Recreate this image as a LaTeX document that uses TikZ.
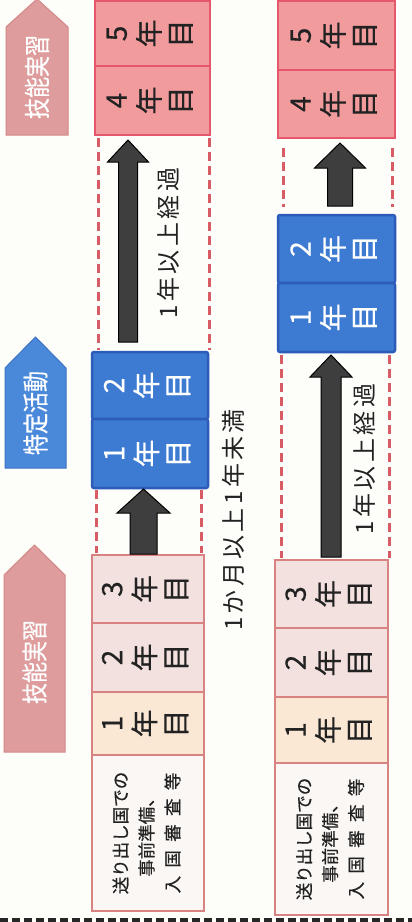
\documentclass[tikz,border=0pt]{standalone}
\usepackage{fontspec}
\usepackage{graphicx}
\newfontfamily\jp{Noto Sans CJK JP}
\newfontfamily\jpb[FakeBold=0.5]{Noto Sans CJK JP}
\newfontfamily\jpls[LetterSpace=14]{Noto Sans CJK JP}
\usetikzlibrary{calc}

\definecolor{bgc}{HTML}{FDFDFA}
\definecolor{salmon}{HTML}{F29B9D}
\definecolor{salmonline}{HTML}{E5576A}
\definecolor{lpink}{HTML}{F3E1DF}
\definecolor{lpinkline}{HTML}{D98282}
\definecolor{peach}{HTML}{FAE8D5}
\definecolor{offw}{HTML}{FBF7F5}
\definecolor{bluebox}{HTML}{3D7BD2}
\definecolor{blueline}{HTML}{2D5BBA}
\definecolor{tagpink}{HTML}{DE9C9C}
\definecolor{tagpinkline}{HTML}{D38888}
\definecolor{tagblue}{HTML}{4A88DA}
\definecolor{tagblueline}{HTML}{3D74C4}
\definecolor{arrowfill}{HTML}{3E3E3E}
\definecolor{dashred}{HTML}{D75C66}
\definecolor{txtdark}{HTML}{222222}

\newcommand{\yrtxt}[1]{\rotatebox{90}{\jpb\fontsize{28}{31}\selectfont\begin{tabular}{@{}c@{}}#1\end{tabular}}}
\newcommand{\pretxt}{\rotatebox{90}{\jpb\fontsize{17.5}{26}\selectfont\begin{tabular}{@{}c@{}}送り出し国での\\事前準備、\\\makebox[6.9em][s]{入\hfill 国\hfill 審\hfill 査\hfill 等}\end{tabular}}}
\newcommand{\tagtxt}[1]{\rotatebox{90}{\scalebox{1}[1.25]{#1}}}

% block arrow: #1 lower node, #2 upper node, #3 centre x, #4 shaft half, #5 head half, #6 head length, #7 bottom gap, #8 top gap
\newcommand{\barrow}[8]{%
  \draw[blockarr] let \p1=(#1.north), \p2=(#2.south) in
    (#3pt-#4pt,\y1+#7pt) -- (#3pt-#4pt,\y2-#8pt-#6pt) -- (#3pt-#5pt,\y2-#8pt-#6pt)
    -- (#3pt,\y2-#8pt) -- (#3pt+#5pt,\y2-#8pt-#6pt) -- (#3pt+#4pt,\y2-#8pt-#6pt)
    -- (#3pt+#4pt,\y1+#7pt) -- cycle;}
% dashed guide: #1 upper node, #2 lower node, #3 x, #4 top gap, #5 bottom gap
\newcommand{\dline}[5]{%
  \draw[dashline] let \p1=(#1.south), \p2=(#2.north) in (#3pt,\y1-#4pt) -- (#3pt,\y2+#5pt);}

\begin{document}
\begin{tikzpicture}[x=1pt,y=-1pt,
  ybox/.style={draw, line width=2.5pt, inner sep=0pt, outer sep=0pt, font=\jp, text=txtdark},
  redbox/.style={ybox, draw=salmonline, fill=salmon},
  pinkbox/.style={ybox, draw=lpinkline, fill=lpink},
  peachbox/.style={ybox, draw=lpinkline, fill=peach},
  prebox/.style={ybox, draw=lpinkline, fill=offw},
  bluebx/.style={ybox, draw=blueline, fill=bluebox, text=white, rounded corners=2pt},
  blockarr/.style={draw=black, line width=1pt, fill=arrowfill, line join=miter},
  dashline/.style={draw=dashred, line width=3pt, dash pattern=on 9pt off 5pt},
  lab/.style={rotate=90, inner sep=0pt, font=\jpls\fontsize{24}{24}\selectfont, text=txtdark},
  tagt/.style={inner sep=0pt, text=white, font=\jpb\fontsize{21}{21}\selectfont},
  tagpk/.style={fill=tagpink, draw=tagpinkline, line width=1pt},
  tagbl/.style={fill=tagblue, draw=tagblueline, line width=1pt}
]
\useasboundingbox (0,0) rectangle (412,922);
\fill[bgc] (0,0) rectangle (412,922);

% tags
\path[tagpk] (6,135) -- (6,27) -- (37,-1) -- (68,27) -- (68,135) -- cycle;
\node[tagt] (tag1) at (37,77) {\tagtxt{技能実習}};
\path[tagbl] (5,468) -- (5,368) -- (35.5,337) -- (66,368) -- (66,468) -- cycle;
\node[tagt] (tag2) at (35.5,413) {\tagtxt{特定活動}};
\path[tagpk] (4,752) -- (4,575) -- (34.5,545) -- (65,575) -- (65,752) -- cycle;
\node[tagt] (tag3) at (34.5,662) {\tagtxt{技能実習}};

% column 1
\node[redbox, minimum width=115pt, minimum height=65pt] (c1y5) at (152.5,33.5) {\yrtxt{5\\年\\目}};
\node[redbox, minimum width=115pt, minimum height=69pt] (c1y4) at (152.5,100.5) {\yrtxt{4\\年\\目}};
\node[bluebx, minimum width=116pt, minimum height=67pt] (c1s2) at (150,385.5) {\yrtxt{2\\年\\目}};
\node[bluebx, minimum width=116pt, minimum height=69pt] (c1s1) at (150,453.5) {\yrtxt{1\\年\\目}};
\node[pinkbox, minimum width=112pt, minimum height=68pt] (c1y3) at (148,589) {\yrtxt{3\\年\\目}};
\node[pinkbox, minimum width=112pt, minimum height=69pt] (c1y2) at (148,657.5) {\yrtxt{2\\年\\目}};
\node[peachbox, minimum width=112pt, minimum height=63pt] (c1y1) at (148,723.5) {\yrtxt{1\\年\\目}};
\node[prebox, minimum width=112pt, minimum height=156pt] (c1pre) at (148,833) {\pretxt};

\dline{c1y4}{c1s2}{98}{3}{2}
\dline{c1y4}{c1s2}{209}{3}{2}
\dline{c1s1}{c1y3}{96}{2}{2}
\dline{c1s1}{c1y3}{201}{2}{2}
\barrow{c1s2}{c1y4}{128}{9.5}{20.5}{22}{10}{5}
\barrow{c1y3}{c1s1}{143.5}{13.5}{26.5}{24}{1}{1}
\node[lab] (l1) at (168,243) {1年以上経過};
\node[lab] (l2) at (233,520) {1か月以上1年未満};

% column 2
\node[redbox, minimum width=117pt, minimum height=69pt] (c2y5) at (336.5,35.5) {\yrtxt{5\\年\\目}};
\node[redbox, minimum width=117pt, minimum height=68pt] (c2y4) at (336.5,104) {\yrtxt{4\\年\\目}};
\node[bluebx, minimum width=117pt, minimum height=68pt] (c2s2) at (336.5,249) {\yrtxt{2\\年\\目}};
\node[bluebx, minimum width=117pt, minimum height=69pt] (c2s1) at (336.5,317.5) {\yrtxt{1\\年\\目}};
\node[pinkbox, minimum width=113pt, minimum height=68pt] (c2y3) at (331.5,594) {\yrtxt{3\\年\\目}};
\node[pinkbox, minimum width=113pt, minimum height=69pt] (c2y2) at (331.5,662.5) {\yrtxt{2\\年\\目}};
\node[peachbox, minimum width=113pt, minimum height=66pt] (c2y1) at (331.5,730) {\yrtxt{1\\年\\目}};
\node[prebox, minimum width=113pt, minimum height=152pt] (c2pre) at (331.5,839) {\pretxt};

\dline{c2y4}{c2s2}{283}{10}{8}
\dline{c2y4}{c2s2}{392}{10}{8}
\dline{c2s1}{c2y3}{281}{3}{2}
\dline{c2s1}{c2y3}{389}{3}{2}
\barrow{c2s2}{c2y4}{340}{12.5}{25.5}{25}{9}{5}
\barrow{c2y3}{c2s1}{331}{10}{21}{22}{3}{3}
\node[lab] (l3) at (364,459) {1年以上経過};

% bottom dashed rule
\draw[line width=5pt, draw=black!85, dash pattern=on 8pt off 4pt] (0,920) -- (412,920);
\end{tikzpicture}
\end{document}
